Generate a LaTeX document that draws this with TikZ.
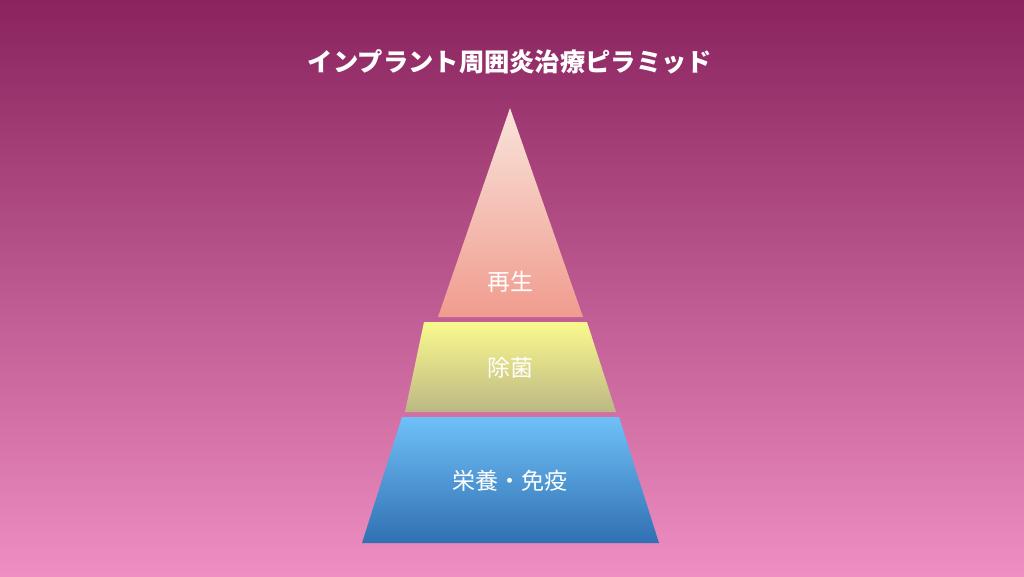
\documentclass[tikz,border=0pt]{standalone}
\usepackage{fontspec}
\newfontfamily\jpfont{Noto Sans CJK JP}
\definecolor{bgtop}{HTML}{8A235E}
\definecolor{bgbottom}{HTML}{EE8EC2}
\definecolor{regentop}{HTML}{F9E3DA}
\definecolor{regenbottom}{HTML}{F09C8E}
\definecolor{germtop}{HTML}{FAF98E}
\definecolor{germbottom}{HTML}{BDB884}
\definecolor{basetop}{HTML}{70C0F8}
\definecolor{basebottom}{HTML}{3070B2}
\begin{document}
\begin{tikzpicture}[x=1pt,y=-1pt,
  level/.style={font=\jpfont\fontsize{23}{23}\selectfont, text=white, inner sep=0pt}]
\useasboundingbox (0,0) rectangle (1024,576);
\shade[top color=bgtop, bottom color=bgbottom] (0,0) rectangle (1024,576);
\node[font=\jpfont\bfseries\fontsize{25.3}{26}\selectfont, text=white] (title) at (510,62) {インプラント周囲炎治療ピラミッド};
% pyramid
\shade[top color=regentop, bottom color=regenbottom] (510,108) -- (583,317) -- (438,317) -- cycle;
\shade[top color=germtop, bottom color=germbottom] (424,322) -- (587,322) -- (616,412) -- (405,412) -- cycle;
\shade[top color=basetop, bottom color=basebottom] (402,417) -- (619,417) -- (659,543) -- (362,543) -- cycle;
\node[level] (regen) at (510,282) {再生};
\node[level] (germ) at (510,368) {除菌};
\node[level] (base) at (510,481) {栄養・免疫};
\end{tikzpicture}
\end{document}
